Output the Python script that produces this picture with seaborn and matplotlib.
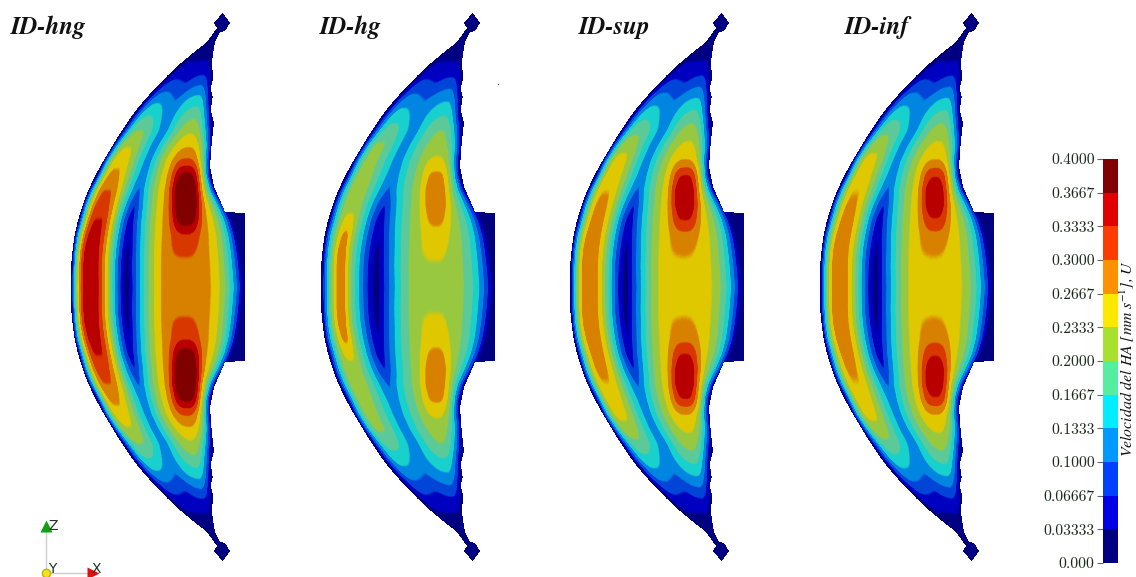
import numpy as np
import pandas as pd
import seaborn as sns
import matplotlib
matplotlib.use("Agg")
import matplotlib.pyplot as plt
from matplotlib.colors import ListedColormap, to_rgb
from matplotlib.path import Path

W, H = 1136, 577
sns.set_theme(style="white")
plt.rcParams["mathtext.fontset"] = "stix"

# ---- labels -------------------------------------------------------------
panel_names = ["ID-hng", "ID-hg", "ID-sup", "ID-inf"]
tick_labels = ["0.4000", "0.3667", "0.3333", "0.3000", "0.2667", "0.2333", "0.2000",
               "0.1667", "0.1333", "0.1000", "0.06667", "0.03333", "0.000"]
bar_values = [0.3833, 0.35, 0.3167, 0.2833, 0.25, 0.2167, 0.1833, 0.15, 0.1167, 0.0833, 0.05, 0.0167]
bar_colors = ["#000080", "#0000e6", "#0040ff", "#0099ff", "#00eeff", "#55eea0",
              "#a8e030", "#ffe800", "#ff9000", "#ff3c00", "#e00000", "#800000"]
field_colors = ["#000080", "#0000c0", "#0044d8", "#0085e0", "#18d0cc", "#5cca98",
                "#98c840", "#e0c800", "#d88000", "#d83800", "#b80000", "#800000"]

# ---- upper half, in pixels of the first panel ----------------------------
row_y   = [40, 55, 70, 85, 100, 115, 130, 145, 160, 175, 190, 205, 220, 235, 250, 265, 287]
x_left  = [206, 190, 173, 158, 144, 132, 122, 112, 103, 96, 88, 82, 78, 74, 72, 71, 70.5]
x_crest1 = [208, 196, 184, 172, 160, 150, 141, 130, 121, 114, 108, 103, 99, 95, 92, 91, 91]
x_trough = [210, 204, 195, 185, 176, 170, 165, 156, 149, 144, 139, 135, 131, 129, 128, 127, 127]
x_crest2 = [212, 209, 204, 201, 198, 195, 192, 190, 188, 187, 186, 186, 186, 186, 185, 185, 185]
x_right = [216, 214, 214, 212, 212, 212, 213, 213, 211, 211, 216, 225, 233, 238, 241, 243, 245]
crest2_flat = [1, 1, 1, 1, 1, 1, 1.02, 1.06, 1.12, 1.18, 1.22, 1.25, 1.25, 1.25, 1.25, 1.25, 1.25]
u_trough = [.02, .025, .045, .07, .10, .11, .115, .115, .115, .11, .095, .065, .045, .035, .025, .02, .015]

hng_crest1 = [.02, .025, .045, .08, .125, .165, .20, .23, .255, .275, .30, .318, .335, .347, .355, .36, .362]
hng_peak1  = [0, 0, 0, 0, 0, 0, 0, 0, 0, 0, 0, 0, 0, 0, 0, 0, 0]
hng_crest2 = [.02, .025, .05, .10, .15, .19, .225, .26, .285, .29, .29, .29, .29, .29, .29, .29, .29]
hng_peak2  = [0, 0, 0, 0, 0, 0, 0, 0, .02, .09, .13, .13, .10, .04, .02, 0, 0]

hg_crest1 = [.02, .025, .045, .08, .115, .15, .18, .205, .21, .215, .22, .22, .225, .225, .225, .225, .225]
hg_peak1  = [0, 0, 0, 0, 0, 0, 0, 0, 0, 0, 0, 0, .02, .05, .06, .065, .065]
hg_crest2 = [.02, .025, .045, .09, .13, .165, .20, .215, .22, .225, .225, .225, .225, .225, .225, .225, .225]
hg_peak2  = [0, 0, 0, 0, 0, 0, 0, 0, .02, .05, .065, .065, .05, .03, .018, .005, 0]

sup_crest1 = [.02, .025, .045, .08, .12, .155, .19, .22, .245, .255, .265, .275, .28, .285, .29, .29, .29]
sup_peak1  = [0, 0, 0, 0, 0, 0, 0, 0, 0, 0, 0, 0, 0, 0, 0, 0, 0]
sup_crest2 = [.02, .025, .05, .095, .14, .18, .215, .24, .255, .26, .26, .26, .26, .26, .26, .26, .26]
sup_peak2  = [0, 0, 0, 0, 0, 0, 0, 0, .012, .075, .105, .105, .075, .03, .012, 0, 0]

inf_crest1 = [.02, .025, .045, .08, .12, .155, .19, .22, .245, .255, .265, .272, .28, .285, .288, .29, .29]
inf_peak1  = [0, 0, 0, 0, 0, 0, 0, 0, 0, 0, 0, 0, 0, 0, 0, 0, 0]
inf_crest2 = [.02, .025, .05, .095, .14, .18, .215, .24, .255, .26, .26, .26, .26, .26, .26, .26, .26]
inf_peak2  = [0, 0, 0, 0, 0, 0, 0, 0, .012, .07, .10, .10, .07, .03, .012, 0, 0]

right_edge_x = [222.7, 230, 225.7, 219.3, 215, 211.7, 213.3, 210.7, 212.7, 210.7, 214, 211.7, 210, 214, 220, 225, 245, 245]
right_edge_y = [12.7, 22.7, 30, 33, 41.7, 63, 78, 88, 97, 110, 123, 143, 167, 187, 200, 212, 213, 287]
left_edge_x = [70.5, 71, 75, 85, 98, 108, 122, 138, 160, 175, 193, 207, 217, 214]
left_edge_y = [287, 263, 230, 197, 170, 153, 130, 107, 83, 68, 53, 42, 28, 23]

panel_left = [0, 250, 499, 749]
panel_data = [(hng_crest1, hng_peak1, hng_crest2, hng_peak2),
              (hg_crest1, hg_peak1, hg_crest2, hg_peak2),
              (sup_crest1, sup_peak1, sup_crest2, sup_peak2),
              (inf_crest1, inf_peak1, inf_crest2, inf_peak2)]
title_x = [11, 320, 579, 845]

# ---- field on a pixel grid ----------------------------------------------
X0, X1, Y0, Y1 = 60, 250, 5, 570
MID = 287
xs = np.arange(X0, X1) + 0.5
ys = np.arange(Y0, Y1) + 0.5


def smooth(a, n, axis):
    k = np.hanning(n + 2)[1:-1]
    k = k / k.sum()
    pad = n
    def f(v):
        return np.convolve(np.pad(v, pad, mode="edge"), k, mode="same")[pad:-pad]
    return np.apply_along_axis(f, axis, a)


def build(c1, p1, c2, p2):
    yy = np.minimum(ys, 2 * MID - ys)
    ip = lambda arr: np.interp(yy, row_y, arr)
    xl, xa, xt, xb, xr = map(ip, (x_left, x_crest1, x_trough, x_crest2, x_right))
    ut, v1, b1, v2, b2, fl = map(ip, (u_trough, c1, p1, c2, p2, crest2_flat))
    F = np.zeros((len(ys), len(xs)))
    for i in range(len(ys)):
        x = xs
        f = np.zeros_like(x)
        m = (x >= xl[i]) & (x < xa[i])
        t = np.minimum(1, 1.2 * (x[m] - xl[i]) / (xa[i] - xl[i]))
        f[m] = v1[i] * (1 - (1 - t) ** 2)
        m = (x >= xa[i]) & (x < xt[i])
        t = np.maximum(0, ((x[m] - xa[i]) / (xt[i] - xa[i]) - 0.1) / 0.9)
        f[m] = ut[i] + (v1[i] - ut[i]) * (0.25 + 0.25 * np.cos(np.pi * t) + 0.5 * (1 - t))
        m = (x >= xt[i]) & (x < xb[i])
        t = (x[m] - xt[i]) / (xb[i] - xt[i])
        f[m] = ut[i] + (v2[i] - ut[i]) * np.sin(np.pi / 2 * np.minimum(1, fl[i] * t))
        m = (x >= xb[i]) & (x < xr[i])
        t = (x[m] - xb[i]) / (xr[i] - xb[i])
        f[m] = v2[i] * (1 - t ** (2 + (fl[i] - 1) * 4))
        f = f + b1[i] * np.exp(-(np.abs(x - xa[i]) / 7.0) ** 2) + b2[i] * np.exp(-(np.abs(x - xb[i]) / 14.0) ** 3)
        F[i] = f
    F = smooth(F, 9, 0)
    F = smooth(F, 3, 1)
    return F


def chaikin(points, rounds=3):
    pts = np.asarray(points, float)
    for _ in range(rounds):
        q = 0.75 * pts[:-1] + 0.25 * pts[1:]
        r = 0.25 * pts[:-1] + 0.75 * pts[1:]
        mid = np.empty((2 * len(q), 2))
        mid[0::2], mid[1::2] = q, r
        pts = np.vstack([pts[0], mid, pts[-1]])
    return pts


top_right = np.c_[right_edge_x, right_edge_y]
top_left = chaikin(np.c_[left_edge_x, left_edge_y][:-2])
top_left = np.vstack([top_left, np.c_[left_edge_x, left_edge_y][-2:]])
mirror = lambda p: np.c_[p[:, 0], 2 * MID - p[:, 1]]
poly = np.vstack([top_right, mirror(top_right)[::-1], mirror(top_left)[::-1], top_left])
path = Path(np.vstack([poly, poly[0]]))
gx, gy = np.meshgrid(xs, ys)
inside = path.contains_points(np.c_[gx.ravel(), gy.ravel()]).reshape(gx.shape)

fig = plt.figure(figsize=(W / 100, H / 100), dpi=100)
fig.patch.set_facecolor("white")


def px_axes(x0, y0, x1, y1, **kw):
    return fig.add_axes([x0 / W, 1 - y1 / H, (x1 - x0) / W, (y1 - y0) / H], **kw)


# band edges slightly softened, as in the slightly blurred original
steps = np.repeat(np.array([to_rgb(c) for c in field_colors]), 40, axis=0)
soft = smooth(steps, 9, 0)
field_cmap = ListedColormap(soft)
for left, data in zip(panel_left, panel_data):
    ax = px_axes(left + X0, Y0, left + X1, Y1)
    frame = pd.DataFrame(build(*data), index=ys, columns=xs)
    sns.heatmap(frame, mask=~inside, cmap=field_cmap, vmin=0, vmax=0.4, cbar=False,
                xticklabels=False, yticklabels=False, ax=ax)
    ax.set_xlabel("")
    ax.set_ylabel("")
    ax.axis("off")

# ---- colour bar ---------------------------------------------------------
cax = px_axes(1103, 159, 1118, 563)
bar = pd.DataFrame({"U": bar_values})
sns.heatmap(bar, cmap=ListedColormap(bar_colors), vmin=0, vmax=0.4, cbar=False,
            xticklabels=False, yticklabels=False, ax=cax)
cax.set_xlabel("")
cax.set_ylabel("")
cax.set_yticks(np.arange(len(tick_labels)))
cax.set_yticklabels(tick_labels, family="cmr10", fontsize=11.3, color="#1a2a1a", rotation=0)
cax.tick_params(axis="y", left=True, length=4, width=0.8, color="#666666", pad=2)
for s in cax.spines.values():
    s.set_visible(False)

# ---- overlay: titles, triad, colour-bar label ----------------------------
ov = fig.add_axes([0, 0, 1, 1], facecolor="none")
ov.set_xlim(0, W)
ov.set_ylim(H, 0)
ov.axis("off")
for name, x in zip(panel_names, title_x):
    ov.text(x, 27, name, family="STIXGeneral", style="italic", weight="bold",
            fontsize=17.8, color="#111111", va="center", ha="left")
ov.text(1127, 359, r"Velocidad del HA [mm s$^{-1}$], U", family="STIXGeneral", style="italic",
        fontsize=11.3, rotation=90, va="center", ha="center", color="#111111")
ov.plot([46, 46], [573, 530], color="#cccccc", lw=1)
ov.plot([46, 90], [573, 573], color="#cccccc", lw=1)
ov.plot([46], [526], marker="^", ms=8, color="#10a010", mec="none")
ov.plot([93], [573], marker=">", ms=8, color="#e01010", mec="none")
ov.plot([46], [573], marker="o", ms=6, color="#f4e020", mec="#c0b010")
for t, x, y in [("Z", 53, 526), ("Y", 52, 569), ("X", 96, 569)]:
    ov.text(x, y, t, fontsize=10, family="DejaVu Sans", color="#223322", ha="center", va="center")
ov.plot([498], [84], marker="o", ms=1, color="#444444", mec="none")

fig.savefig("out.png", dpi=100, facecolor="white")
